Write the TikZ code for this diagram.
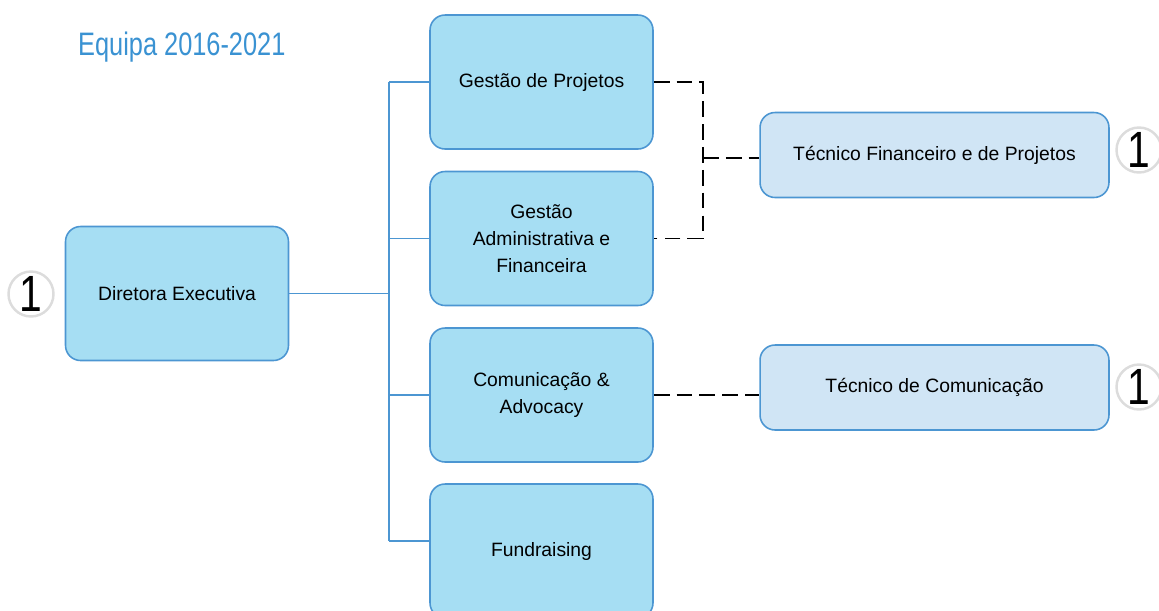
\documentclass[tikz,border=0pt]{standalone}
\usepackage{fontspec}
\setmainfont{Liberation Sans}
\newfontfamily\titlefont[FakeStretch=0.78]{Liberation Sans}
\newfontfamily\numfont[FakeStretch=0.8]{Liberation Sans}
\usetikzlibrary{positioning}
\definecolor{boxblue}{RGB}{166,222,243}
\definecolor{boxpale}{RGB}{208,229,245}
\definecolor{edgeblue}{RGB}{76,150,210}
\definecolor{titleblue}{RGB}{58,146,210}
\definecolor{ringgray}{RGB}{220,220,220}
\tikzset{
    unit/.style = {draw=edgeblue, line width=0.9pt, fill=boxblue, rounded corners=0.3cm,
        minimum width=4.46cm, minimum height=2.68cm, align=center, font=\fontsize{11}{15.3}\selectfont},
    staff/.style = {unit, fill=boxpale, minimum width=6.98cm, minimum height=1.7cm},
    count/.style = {circle, draw=ringgray, line width=1.4pt, minimum size=0.9cm, inner sep=0pt,
        font=\numfont\fontsize{29}{29}\selectfont},
    busline/.style = {draw=edgeblue, line width=1pt},
    dashline/.style = {draw=black, line width=1.1pt, dash pattern=on 9pt off 4pt}
}
\begin{document}
\begin{tikzpicture}[x=0.02cm, y=-0.02cm]
        \useasboundingbox (0,0) rectangle (1159,610);
        \node[text=titleblue, font=\titlefont\fontsize{18.5}{18.5}\selectfont, anchor=west] (title) at (72,47) {Equipa 2016-2021};
        \node[unit] (dir) at (177,293.5) {Diretora Executiva};
        \node[count] (ndir) at (31,294) {1};
        \node[unit] (proj) at (541.5,82) {Gestão de Projetos};
        \node[unit] (adm) at (541.5,238.5) {Gestão\\Administrativa e\\Financeira};
        \node[unit] (com) at (541.5,395) {Comunicação \&\\Advocacy};
        \node[unit] (fund) at (541.5,551) {Fundraising};
        \node[staff] (tfin) at (934.5,155) {Técnico Financeiro e de Projetos};
        \node[staff] (tcom) at (934.5,387.5) {Técnico de Comunicação};
        \node[count] (ntfin) at (1139,150) {1};
        \node[count] (ntcom) at (1139,387) {1};
        % solid bus
        \coordinate (bustop) at (389,82);
        \coordinate (busbot) at (389,541);
        \draw[busline] (bustop) -- (busbot);
        \draw[busline] (dir.east) -- (dir.east -| bustop);
        \foreach \n in {proj,adm,com}
            \draw[busline] (\n.west -| bustop) -- (\n.west);
        \draw[busline] (busbot) -- (busbot -| fund.west);
        % dashed links
        \coordinate (join) at (703,158);
        \draw[dashline] (proj.east) -| (join) |- (adm.east);
        \draw[dashline] (join) -- (join -| tfin.west);
        \draw[dashline] (com.east) -- (com.east -| tcom.west);
    \end{tikzpicture}
\end{document}
